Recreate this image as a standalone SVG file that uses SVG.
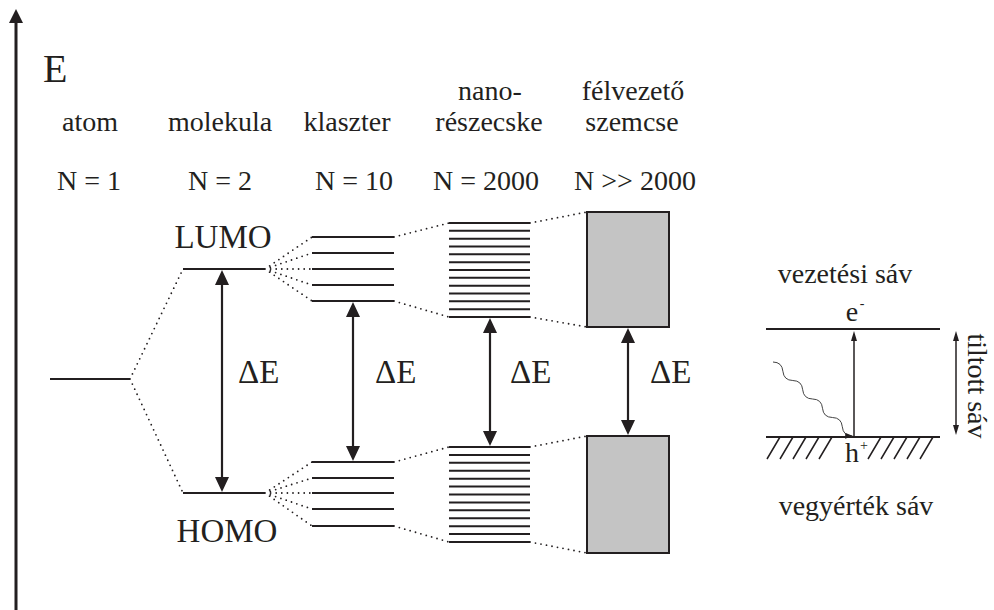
<svg xmlns="http://www.w3.org/2000/svg" width="994" height="610" viewBox="0 0 994 610">
<style>
text{font-family:'Liberation Serif',Tinos,'Times New Roman','DejaVu Serif',serif;fill:#231f20}
.lbl{font-size:28px;text-anchor:middle}
.de{font-size:33px}
.lv{stroke:#231f20;stroke-width:2;fill:none}
.dot{stroke:#231f20;stroke-width:1.8;stroke-linecap:round;stroke-dasharray:0 5.6;fill:none}
.arr{stroke:#231f20;stroke-width:2.2;fill:none}
.thin{stroke:#231f20;stroke-width:1.5;fill:none}
.band{fill:#c4c4c4;stroke:#231f20;stroke-width:2}
</style>
<defs>
<marker id="big" viewBox="0 0 15 14" refX="9" refY="7" markerWidth="15" markerHeight="14" markerUnits="userSpaceOnUse" orient="auto-start-reverse">
<path d="M0,0 L15,7 L0,14 z" fill="#231f20"/>
</marker>
<marker id="sm" viewBox="0 0 10 6" refX="7" refY="3" markerWidth="10" markerHeight="6" markerUnits="userSpaceOnUse" orient="auto-start-reverse">
<path d="M0,0 L10,3 L0,6 z" fill="#231f20"/>
</marker>
<marker id="wv" viewBox="0 0 8 6" refX="7" refY="3" markerWidth="8" markerHeight="6" markerUnits="userSpaceOnUse" orient="auto">
<path d="M0,0 L8,3 L0,6 z" fill="#231f20"/>
</marker>
</defs>

<g id="axis">
<line x1="16" y1="20" x2="16" y2="610" stroke="#231f20" stroke-width="3"/>
<path d="M9,23 L16,9 L23,23 z" fill="#231f20"/>
<text x="43" y="82" style="font-size:40px">E</text>
</g>

<g id="headers" font-family="Liberation Serif, serif">
<text class="lbl" x="90" y="131">atom</text>
<text class="lbl" x="220" y="131">molekula</text>
<text class="lbl" x="347" y="131">klaszter</text>
<text class="lbl" x="490" y="100">nano-</text>
<text class="lbl" x="489" y="131">részecske</text>
<text class="lbl" x="633" y="100">félvezető</text>
<text class="lbl" x="632" y="131">szemcse</text>
<text class="lbl" x="89" y="190">N = 1</text>
<text class="lbl" x="220" y="190">N = 2</text>
<text class="lbl" x="354" y="190">N = 10</text>
<text class="lbl" x="486" y="190">N = 2000</text>
<text class="lbl" x="635" y="190">N &gt;&gt; 2000</text>
</g>

<g id="atom">
<line class="lv" x1="50" y1="379" x2="130" y2="379"/>
</g>

<g id="molecule">
<line class="lv" x1="183" y1="269" x2="265" y2="269"/>
<line class="lv" x1="183" y1="493" x2="265" y2="493"/>
<text x="223" y="248" style="font-size:33px;text-anchor:middle">LUMO</text>
<text x="227" y="542" style="font-size:33px;text-anchor:middle">HOMO</text>
</g>

<g id="cluster">
<line class="lv" x1="312" y1="237" x2="394" y2="237"/>
<line class="lv" x1="312" y1="253" x2="394" y2="253"/>
<line class="lv" x1="312" y1="269" x2="394" y2="269"/>
<line class="lv" x1="312" y1="285" x2="394" y2="285"/>
<line class="lv" x1="312" y1="301" x2="394" y2="301"/>
<line class="lv" x1="312" y1="462" x2="394" y2="462"/>
<line class="lv" x1="312" y1="478" x2="394" y2="478"/>
<line class="lv" x1="312" y1="493" x2="394" y2="493"/>
<line class="lv" x1="312" y1="509" x2="394" y2="509"/>
<line class="lv" x1="312" y1="526" x2="394" y2="526"/>
</g>

<g id="nanoparticle">
<path class="lv" d="M449,223H530M449,230.8H530M449,238.7H530M449,246.5H530M449,254.3H530M449,262.2H530M449,270H530M449,277.8H530M449,285.7H530M449,293.5H530M449,301.3H530M449,309.2H530M449,317H530"/>
<path class="lv" d="M449,447H530M449,454.9H530M449,462.8H530M449,470.8H530M449,478.7H530M449,486.6H530M449,494.5H530M449,502.4H530M449,510.3H530M449,518.3H530M449,526.2H530M449,534.1H530M449,542H530"/>
</g>

<g id="grain">
<rect class="band" x="587" y="212" width="82" height="115"/>
<rect class="band" x="587" y="436" width="82" height="117"/>
</g>

<g id="bandscheme">
<text class="lbl" x="845" y="283">vezetési sáv</text>
<text class="lbl" x="856" y="515">vegyérték sáv</text>
<line class="lv" x1="766" y1="329" x2="940" y2="329"/>
<line class="lv" x1="766" y1="437" x2="940" y2="437"/>
<path class="thin" d="M767,459L780,437M780,459L793,437M793,459L806,437M806,459L819,437M819,459L832,437M868,459L881,437M881,459L894,437M894,459L907,437M907,459L920,437M920,459L933,437"/>
<text x="852" y="321" style="font-size:28px;text-anchor:middle">e</text>
<text x="862" y="308" style="font-size:14px;text-anchor:middle">-</text>
<text x="852" y="462" style="font-size:28px;text-anchor:middle">h</text>
<text x="864" y="450" style="font-size:14px;text-anchor:middle">+</text>
<text transform="translate(968,386) rotate(90)" style="font-size:28px;text-anchor:middle">tiltott sáv</text>
</g>

<g id="connectors">
<path class="dot" d="M130,379L183,269M130,379L183,493"/>
<path class="dot" d="M265,269L312,237M265,269L312,253M265,269L312,269M265,269L312,285M265,269L312,301"/>
<path class="dot" d="M265,493L312,462M265,493L312,478M265,493L312,493M265,493L312,509M265,493L312,526"/>
<path class="dot" d="M394,237L449,223M394,301L449,317M394,462L449,447M394,526L449,542"/>
<path class="dot" d="M530,223L587,212M530,317L587,327M530,447L587,436M530,542L587,553"/>
<line class="arr" x1="222" y1="276" x2="222" y2="486" marker-start="url(#big)" marker-end="url(#big)"/>
<line class="arr" x1="353" y1="308" x2="353" y2="455" marker-start="url(#big)" marker-end="url(#big)"/>
<line class="arr" x1="490" y1="324" x2="490" y2="440" marker-start="url(#big)" marker-end="url(#big)"/>
<line class="arr" x1="628" y1="334" x2="628" y2="429" marker-start="url(#big)" marker-end="url(#big)"/>
<line class="thin" x1="854" y1="437" x2="854" y2="334" marker-end="url(#sm)"/>
<line class="thin" x1="956" y1="334" x2="956" y2="432" marker-start="url(#sm)" marker-end="url(#sm)"/>
<path d="M773,362 q9.05,0.2 9.9,9.25 t9.9,9.25 t9.9,9.25 t9.9,9.25 t9.9,9.25 t9.9,9.25 t9.9,9.25 t9.9,9.25" stroke="#444" stroke-width="1" fill="none" marker-end="url(#wv)"/>
<text class="de" x="238" y="383">ΔE</text>
<text class="de" x="375" y="383">ΔE</text>
<text class="de" x="510" y="383">ΔE</text>
<text class="de" x="650" y="383">ΔE</text>
</g>
</svg>
